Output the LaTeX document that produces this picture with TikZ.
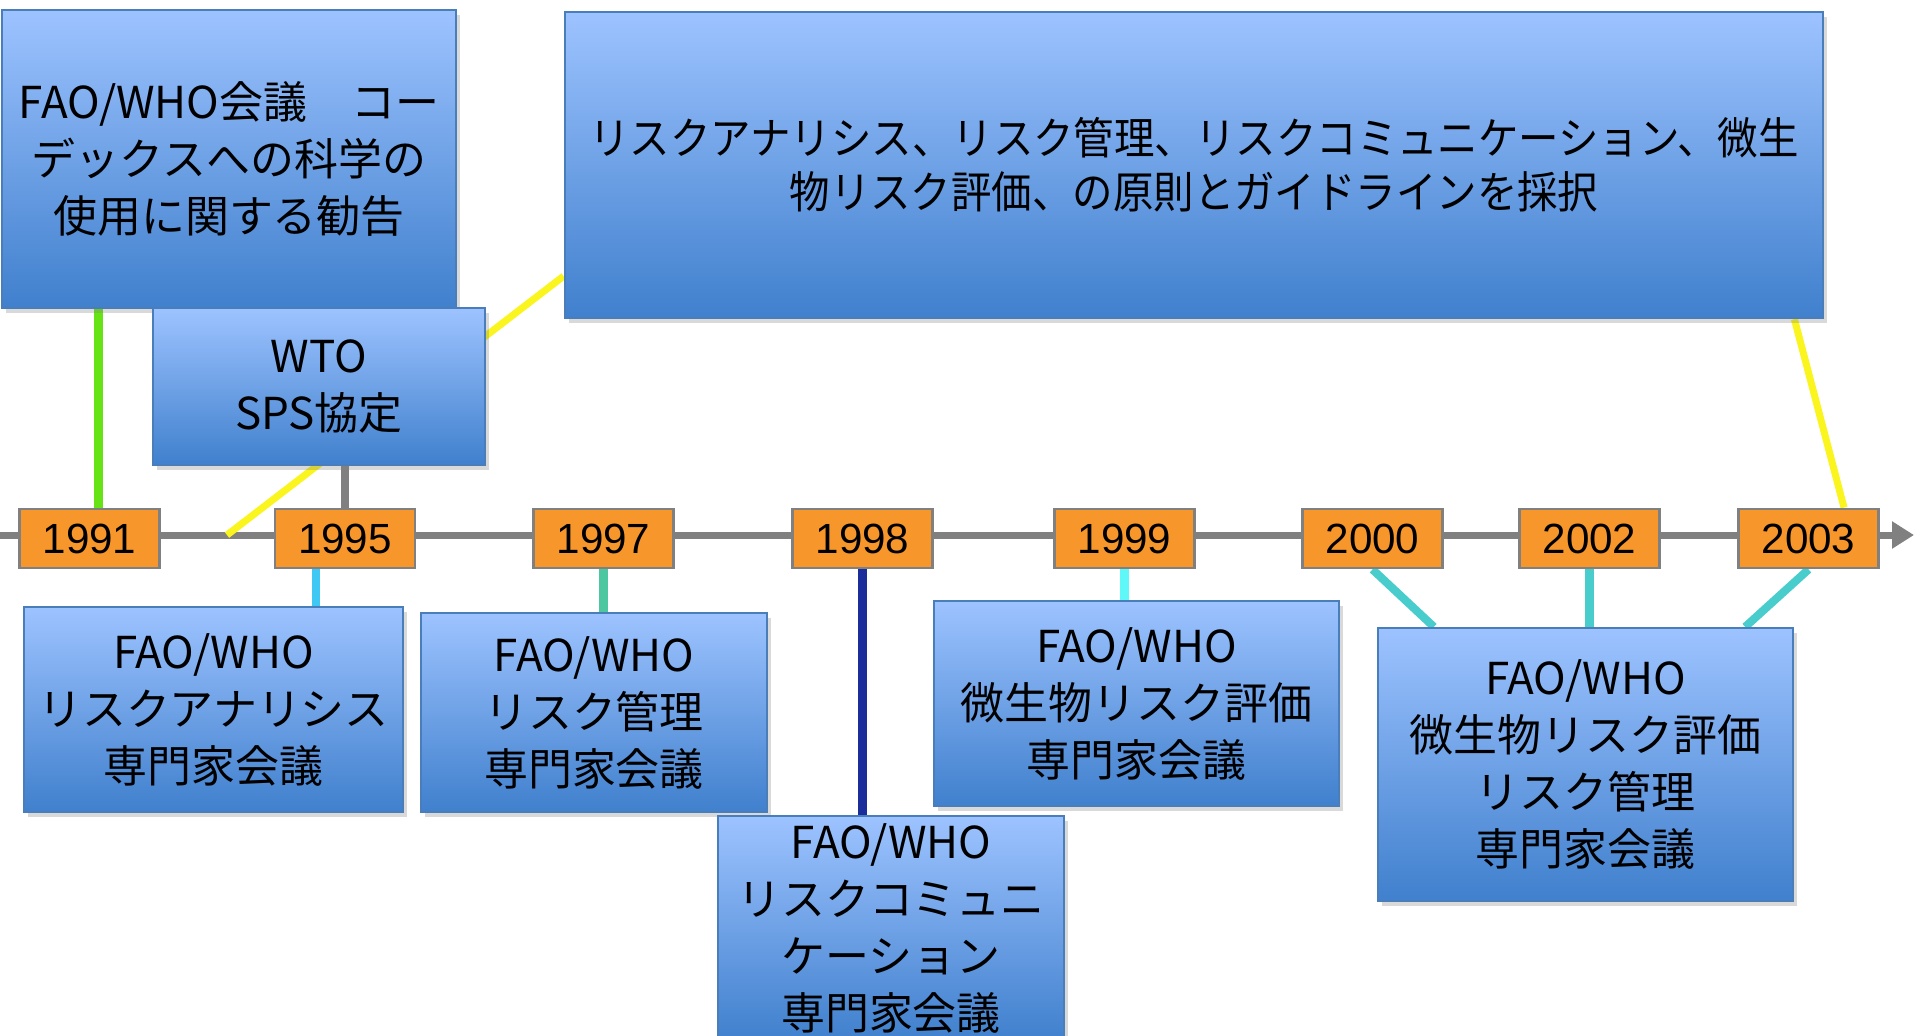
\documentclass[tikz,border=0pt]{standalone}
\usepackage{fontspec}
\setmainfont{Noto Sans CJK JP}
\newfontfamily\narrowfont[FakeStretch=0.92]{Noto Sans CJK JP}
\newfontfamily\yearfont{Liberation Sans}
\usetikzlibrary{shadows,backgrounds,arrows.meta}
\definecolor{boxtop}{RGB}{157,195,255}
\definecolor{boxbot}{RGB}{64,128,205}
\definecolor{boxline}{RGB}{74,126,187}
\definecolor{yearfill}{RGB}{247,150,42}
\definecolor{axisgray}{RGB}{128,128,128}
\definecolor{c91}{RGB}{102,227,20}
\definecolor{c95}{RGB}{64,200,244}
\definecolor{c97}{RGB}{76,199,160}
\definecolor{c98}{RGB}{27,45,154}
\definecolor{c99}{RGB}{94,248,248}
\definecolor{c00}{RGB}{72,204,204}
\definecolor{cyel}{RGB}{250,245,30}

\begin{document}
\begin{tikzpicture}[x=0.01cm,y=-0.01cm,
	event/.style={draw=boxline,line width=0.6pt,top color=boxtop,bottom color=boxbot,align=center,inner sep=0pt,font=\fontsize{12.5}{16.2}\selectfont,drop shadow={shadow xshift=0.04cm,shadow yshift=-0.05cm,opacity=0.3}},
	year/.style={draw=axisgray,line width=0.8pt,fill=yearfill,minimum width=1.4cm,minimum height=0.59cm,inner sep=0pt,font=\yearfont\fontsize{12}{14}\selectfont},
	link/.style={line width=2.3pt}]
	\useasboundingbox (0,0) rectangle (1915,1035);
	\node[event,minimum width=4.54cm,minimum height=2.98cm] (codex) at (229,159) {FAO/WHO会議　コー\\デックスへの科学の\\使用に関する勧告};
	\node[event,minimum width=3.32cm,minimum height=1.57cm] (sps) at (319,386.5) {WTO\\SPS協定};
	\node[event,minimum width=12.58cm,minimum height=3.06cm,font=\narrowfont\fontsize{12.5}{15.4}\selectfont] (principles) at (1194,165) {リスクアナリシス、リスク管理、リスクコミュニケーション、微生\\物リスク評価、の原則とガイドラインを採択};
	\foreach \yr/\xx in {1991/89.5,1995/345,1997/603.5,1998/862.5,1999/1124.5,2000/1372.5,2002/1589.5,2003/1808.5}
		\node[year] (y\yr) at (\xx,538.5) {\yr};
	\node[event,minimum width=3.79cm,minimum height=2.05cm] (ra) at (213.5,709.5) {FAO/WHO\\リスクアナリシス\\専門家会議};
	\node[event,minimum width=3.46cm,minimum height=1.99cm] (rm) at (594,712.5) {FAO/WHO\\リスク管理\\専門家会議};
	\node[event,minimum width=3.46cm,minimum height=2.24cm] (rc) at (891,928) {FAO/WHO\\リスクコミュニ\\ケーション\\専門家会議};
	\node[event,minimum width=4.05cm,minimum height=2.05cm] (mra) at (1136.5,703.5) {FAO/WHO\\微生物リスク評価\\専門家会議};
	\node[event,minimum width=4.15cm,minimum height=2.73cm] (mrm) at (1585.5,764.5) {FAO/WHO\\微生物リスク評価\\リスク管理\\専門家会議};
	\begin{scope}[on background layer]
		\coordinate (tl0) at (0,535);
		\coordinate (tl1) at (1914,535);
		\coordinate (y93) at (227,535);
		\coordinate (g91) at ([xshift=0.09cm]y1991.north);
		\coordinate (g95) at ([xshift=-0.29cm]y1995.south);
		\draw[axisgray,line width=2pt,-{Triangle[length=0.22cm,width=0.26cm]}] (tl0) -- (tl1);
		\draw[cyel,line width=2pt] (y93) -- ([yshift=0.43cm]principles.south west);
		\draw[cyel,line width=2pt] ([xshift=-0.3cm]principles.south east) -- ([xshift=0.355cm]y2003.north);
		\draw[c91,link] (g91) -- (g91 |- codex.south);
		\draw[axisgray,line width=2.5pt] (y1995.north) -- (y1995.north |- sps.south);
		\draw[c95,link] (g95) -- (g95 |- ra.north);
		\draw[c97,link] (y1997.south) -- (y1997.south |- rm.north);
		\draw[c98,line width=2.8pt] (y1998.south) -- (y1998.south |- rc.north);
		\draw[c99,link] (y1999.south) -- (y1999.south |- mra.north);
		\draw[c00,link] (y2000.south) -- ([xshift=0.57cm]mrm.north west);
		\draw[c00,link] (y2002.south) -- (y2002.south |- mrm.north);
		\draw[c00,link] (y2003.south) -- ([xshift=-0.49cm]mrm.north east);
	\end{scope}
\end{tikzpicture}
\end{document}
